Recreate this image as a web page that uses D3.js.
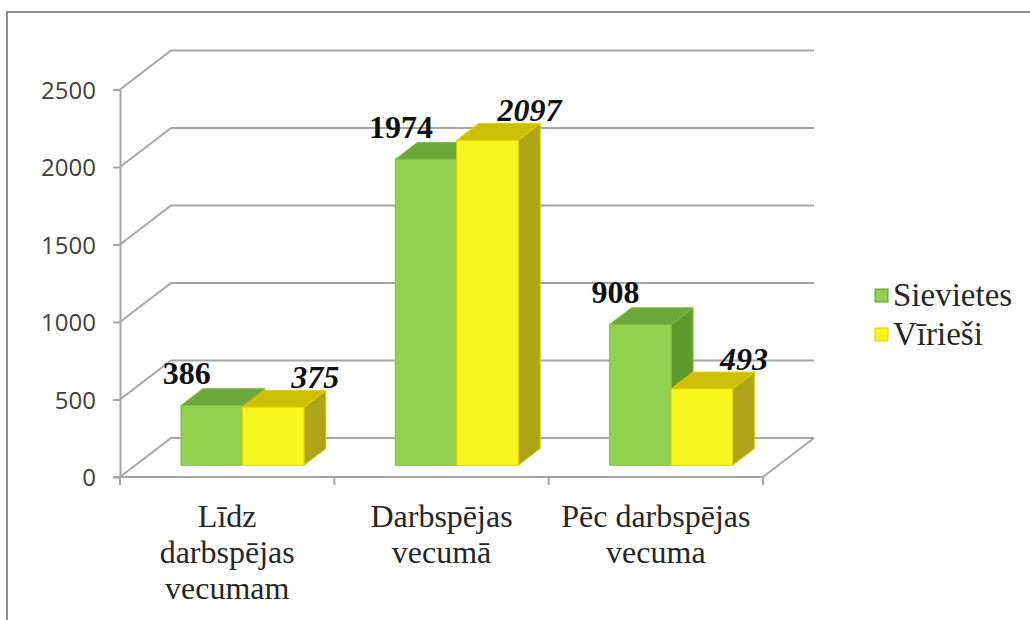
<!DOCTYPE html>
<html>
<head>
<meta charset="utf-8">
<script src="https://cdn.jsdelivr.net/npm/d3@7/dist/d3.min.js"></script>
<style>
  body { margin: 0; background: #fff; }
  svg { display: block; }
</style>
</head>
<body>
<div id="chart"></div>
<script>
var categories = [["Līdz", "darbspējas", "vecumam"], ["Darbspējas", "vecumā"], ["Pēc darbspējas", "vecuma"]];
var seriesNames = ["Sievietes", "Vīrieši"];
var sievietes = [386, 1974, 908];
var virieši = [375, 2097, 493];
var yTicks = [0, 500, 1000, 1500, 2000, 2500];

var width = 1030, height = 620;
var serif = "'Liberation Serif'";
var svg = d3.select("#chart").append("svg").attr("width", width).attr("height", height);

// outer frame
svg.append("rect").attr("x", 7).attr("y", 12).attr("width", 1040).attr("height", 640)
   .attr("fill", "none").attr("stroke", "#8c8c8c").attr("stroke-width", 2);

var depthX = 51, depthY = -39;
var y = d3.scaleLinear().domain([0, 2500]).range([477, 89.5]);
var x = d3.scaleBand().domain(d3.range(categories.length)).range([120, 763]);
var series = d3.scaleBand().domain(d3.range(seriesNames.length)).range([0, 123]);

function proj(px, py, z) { return [px + z * depthX, py + z * depthY]; }

var gridColor = "#a6a6a6";
var grid = svg.append("g");

yTicks.forEach(function(t) {
    var f = proj(120, y(t), 0), b = proj(120, y(t), 1), e = proj(763, y(t), 1);
    grid.append("polyline").attr("points", [f, b, e].map(function(p){return p.join(",");}).join(" "))
        .attr("fill", "none").attr("stroke", gridColor).attr("stroke-width", 2);
});

// floor right edge
var fr = proj(763, y(0), 0), br = proj(763, y(0), 1);
grid.append("line").attr("x1", fr[0]).attr("y1", fr[1]).attr("x2", br[0]).attr("y2", br[1])
    .attr("stroke", gridColor).attr("stroke-width", 2);

// y axis
var yAxis = d3.axisLeft(y).tickValues(yTicks).tickFormat(d3.format("d")).tickSize(7).tickPadding(17).tickSizeOuter(0);
var yg = svg.append("g").attr("transform", "translate(120,0)").call(yAxis);
yg.select(".domain").attr("stroke", gridColor).attr("stroke-width", 2);
yg.selectAll(".tick line").attr("stroke", gridColor).attr("stroke-width", 2);
yg.selectAll(".tick text").attr("font-family", "'Open Sans', sans-serif").attr("font-size", 24)
  .attr("fill", "#404040").attr("dy", "0.36em");

// x axis
var xg = svg.append("g");
xg.append("line").attr("x1", 113).attr("x2", 763).attr("y1", y(0)).attr("y2", y(0))
  .attr("stroke", gridColor).attr("stroke-width", 2);
d3.range(categories.length + 1).forEach(function(i) {
    var px = i < categories.length ? x(i) : x(i - 1) + x.bandwidth();
    xg.append("line").attr("x1", px).attr("x2", px).attr("y1", y(0)).attr("y2", y(0) + 8)
      .attr("stroke", gridColor).attr("stroke-width", 2);
});

categories.forEach(function(lines, i) {
    lines.forEach(function(l, j) {
        xg.append("text").attr("text-anchor", "middle")
          .style("font-family", serif).style("font-size", "32px").attr("fill", "#262626")
          .attr("x", x(i) + x.bandwidth() / 2).attr("y", 527 + j * 36).text(l);
    });
});

// bars
var colors = [
    {front: "#92d050", top: "#6da83c", side: "#5f9a2e", stroke: "#7cc040"},
    {front: "#f7f71e", top: "#cdbf08", side: "#aea418", stroke: "#e8d000"}
];
var zFront = 0.3, zBack = 0.73;
var bars = svg.append("g");
var labels = svg.append("g");

function drawBar(i, s, v) {
    var c = colors[s];
    var x0 = x(i) + x.bandwidth() / 2 - series.range()[1] / 2 + series(s);
    var x1 = x0 + series.bandwidth();
    var yb = y(0), yt = y(v);
    var p = function(px, py, z){ return proj(px, py, z).join(","); };
    var g = bars.append("g").attr("stroke", c.stroke).attr("stroke-width", 1).attr("stroke-linejoin", "round");
    g.append("polygon").attr("fill", c.side)
     .attr("points", [p(x1, yb, zFront), p(x1, yb, zBack), p(x1, yt, zBack), p(x1, yt, zFront)].join(" "));
    g.append("polygon").attr("fill", c.top)
     .attr("points", [p(x0, yt, zFront), p(x0, yt, zBack), p(x1, yt, zBack), p(x1, yt, zFront)].join(" "));
    g.append("polygon").attr("fill", c.front)
     .attr("points", [p(x0, yb, zFront), p(x1, yb, zFront), p(x1, yt, zFront), p(x0, yt, zFront)].join(" "));

    var topBack = proj(0, yt, zBack)[1];
    var fc = proj((x0 + x1) / 2, yt, zFront)[0];
    labels.append("text").attr("text-anchor", "middle")
        .attr("x", s === 0 ? fc - 25 : fc + 42)
        .attr("y", s === 0 ? topBack - 5 : topBack - 2)
        .style("font-family", serif).style("font-size", "32px").style("font-weight", "bold")
        .style("font-style", s === 0 ? "normal" : "italic")
        .attr("fill", "#111").text(v);
}

categories.forEach(function(c, i) {
    drawBar(i, 0, sievietes[i]);
    drawBar(i, 1, virieši[i]);
});

// legend
var legend = svg.append("g");
seriesNames.forEach(function(name, s) {
    var ly = 296 + s * 39;
    legend.append("rect").attr("x", 875).attr("y", ly - 7).attr("width", 13).attr("height", 13)
        .attr("fill", colors[s].front).attr("stroke", s === 0 ? "#5f9a2e" : "#e8d000").attr("stroke-width", 1);
    legend.append("text").attr("x", 893).attr("y", ly + 10)
        .style("font-family", serif).style("font-size", "33px").attr("fill", "#262626").text(name);
});
</script>
</body>
</html>
